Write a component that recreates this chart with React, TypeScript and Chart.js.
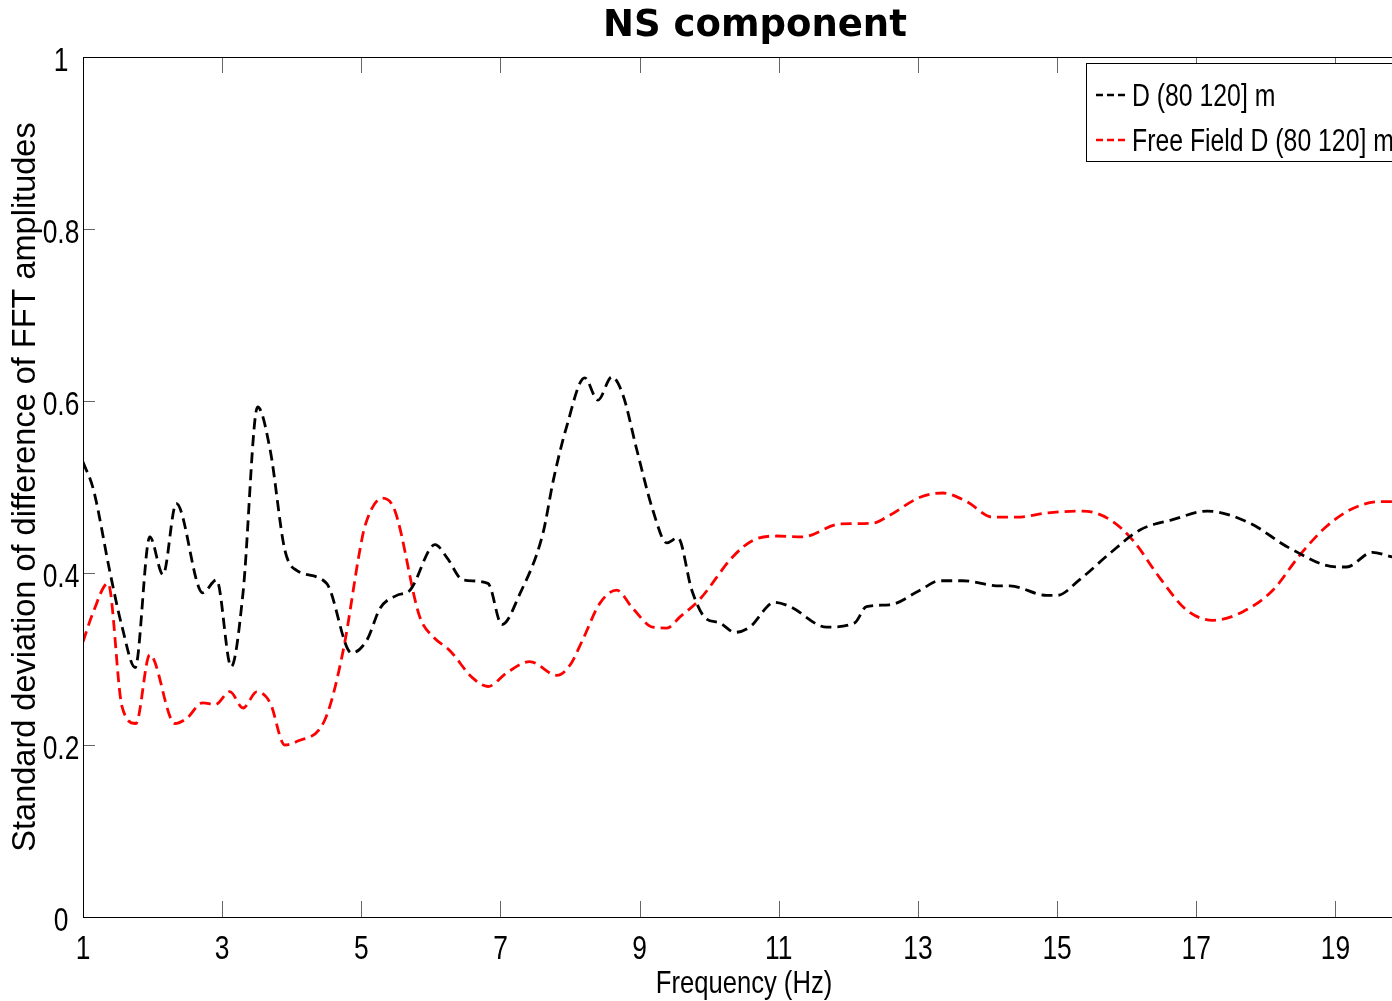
import React, { useEffect, useRef } from 'react';
import { Chart, registerables } from 'chart.js';

Chart.register(...registerables);

const titleText = 'NS component';
const xAxisTitle = 'Frequency (Hz)';
const yAxisTitle = 'Standard deviation of difference of FFT amplitudes';
const legendLabels = ['D (80 120] m', 'Free Field D (80 120] m'];

const xTickValues = [1, 3, 5, 7, 9, 11, 13, 15, 17, 19];
const yTickValues = [0, 0.2, 0.4, 0.6, 0.8, 1];
const yTickLabels = ['0', '0.2', '0.4', '0.6', '0.8', '1'];

const blackFreq = [1.0, 1.15, 1.39, 1.56, 1.75, 1.96, 2.15, 2.34, 2.72, 2.92, 3.13, 3.3, 3.51, 3.69, 3.9, 4.07, 4.5, 4.86, 5.08, 5.27, 5.51, 5.7, 6.06, 6.23, 6.46, 6.82, 7.02, 7.28, 7.61, 7.76, 7.95, 8.21, 8.4, 8.6, 8.76, 8.96, 9.19, 9.39, 9.55, 9.75, 9.94, 10.15, 10.37, 10.58, 10.94, 11.16, 11.69, 12.09, 12.26, 12.59, 13.03, 13.31, 13.64, 14.18, 14.32, 14.85, 15.0, 15.32, 15.76, 16.19, 16.66, 17.16, 17.77, 18.34, 19.02, 19.16, 19.53, 19.8, 20.0];
const blackVal = [0.529, 0.497, 0.4, 0.338, 0.29, 0.442, 0.398, 0.481, 0.377, 0.392, 0.291, 0.377, 0.593, 0.543, 0.427, 0.403, 0.388, 0.307, 0.322, 0.359, 0.374, 0.38, 0.433, 0.418, 0.392, 0.388, 0.34, 0.376, 0.446, 0.508, 0.57, 0.627, 0.601, 0.628, 0.607, 0.543, 0.473, 0.435, 0.441, 0.38, 0.348, 0.342, 0.331, 0.337, 0.366, 0.361, 0.337, 0.342, 0.361, 0.363, 0.38, 0.391, 0.391, 0.385, 0.385, 0.374, 0.374, 0.392, 0.423, 0.45, 0.462, 0.472, 0.458, 0.429, 0.407, 0.407, 0.424, 0.419, 0.415];

const redFreq = [1.0, 1.14, 1.36, 1.56, 1.76, 1.96, 2.32, 2.49, 2.72, 2.9, 3.11, 3.3, 3.5, 3.69, 3.9, 4.07, 4.48, 4.74, 4.98, 5.05, 5.3, 5.48, 5.84, 6.03, 6.27, 6.6, 6.82, 7.09, 7.42, 7.81, 8.0, 8.18, 8.43, 8.67, 8.9, 9.19, 9.39, 9.58, 9.86, 10.34, 10.63, 10.97, 11.34, 11.88, 12.35, 12.59, 13.03, 13.36, 13.7, 14.07, 14.42, 14.87, 15.37, 15.76, 16.09, 16.47, 16.86, 17.24, 17.67, 18.1, 18.49, 18.87, 19.25, 19.64, 20.0];
const redVal = [0.32, 0.353, 0.388, 0.245, 0.225, 0.305, 0.225, 0.231, 0.249, 0.247, 0.262, 0.243, 0.262, 0.249, 0.2, 0.204, 0.23, 0.31, 0.427, 0.454, 0.487, 0.473, 0.349, 0.326, 0.31, 0.278, 0.268, 0.284, 0.297, 0.281, 0.293, 0.322, 0.365, 0.38, 0.359, 0.337, 0.336, 0.349, 0.369, 0.419, 0.438, 0.443, 0.442, 0.457, 0.458, 0.467, 0.488, 0.493, 0.483, 0.465, 0.465, 0.47, 0.472, 0.462, 0.438, 0.395, 0.357, 0.345, 0.355, 0.38, 0.421, 0.454, 0.475, 0.483, 0.483];

const seriesColors = ['#000000', '#ff0000'];

const SANS = '"Liberation Sans", Arial, Helvetica, sans-serif';
const NARROW_SCALE = 0.8;

function narrowText(ctx: CanvasRenderingContext2D, text: string, x: number, y: number, align: CanvasTextAlign, size: number) {
  ctx.save();
  ctx.translate(x, y);
  ctx.scale(NARROW_SCALE, 1);
  ctx.font = size + 'px ' + SANS;
  ctx.fillStyle = '#000000';
  ctx.textAlign = align;
  ctx.textBaseline = 'alphabetic';
  ctx.fillText(text, 0, 0);
  ctx.restore();
}

const framePlugin = {
  id: 'frameAndExtras',
  afterDraw(chart: any) {
    const { ctx, chartArea } = chart;
    const xs = chart.scales.x;
    const ys = chart.scales.y;
    const { left, right, top, bottom } = chartArea;
    ctx.save();
    // tick marks
    ctx.strokeStyle = '#666666';
    ctx.lineWidth = 1;
    ctx.beginPath();
    xTickValues.forEach((v) => {
      const px = Math.round(xs.getPixelForValue(v)) + 0.5;
      ctx.moveTo(px, bottom);
      ctx.lineTo(px, bottom - 16);
      ctx.moveTo(px, top);
      ctx.lineTo(px, top + 16);
    });
    yTickValues.forEach((v) => {
      const py = Math.round(ys.getPixelForValue(v)) + 0.5;
      ctx.moveTo(left, py);
      ctx.lineTo(left + 12, py);
      ctx.moveTo(right, py);
      ctx.lineTo(right - 12, py);
    });
    ctx.stroke();
    // frame
    ctx.strokeStyle = '#000000';
    ctx.lineWidth = 1;
    ctx.strokeRect(Math.round(left) + 0.5, Math.round(top) + 0.5, Math.round(right - left), Math.round(bottom - top));
    // tick labels
    xTickValues.forEach((v) => {
      narrowText(ctx, String(v), xs.getPixelForValue(v), bottom + 42, 'center', 33);
    });
    yTickValues.forEach((v, i) => {
      narrowText(ctx, yTickLabels[i], left - 22, ys.getPixelForValue(v) + 14, 'center', 33);
    });
    // x axis title
    narrowText(ctx, xAxisTitle, (left + right) / 2, bottom + 76, 'center', 32);
    // title
    ctx.fillStyle = '#000000';
    ctx.font = 'bold 37px "DejaVu Sans", sans-serif';
    ctx.textAlign = 'center';
    ctx.textBaseline = 'middle';
    ctx.fillText(titleText, (left + right) / 2 + 11, 26);
    // legend
    const bx = right - 319;
    const by = top + 6;
    const bw = 316;
    const bh = 98;
    ctx.fillStyle = '#ffffff';
    ctx.fillRect(bx, by, bw, bh);
    ctx.strokeStyle = '#000000';
    ctx.lineWidth = 1;
    ctx.strokeRect(bx + 0.5, by + 0.5, bw, bh);
    legendLabels.forEach((label, i) => {
      const ly = by + 32 + i * 45;
      ctx.strokeStyle = seriesColors[i];
      ctx.lineWidth = 2.5;
      ctx.setLineDash([7, 4]);
      ctx.beginPath();
      ctx.moveTo(bx + 10, ly);
      ctx.lineTo(bx + 42, ly);
      ctx.stroke();
      ctx.setLineDash([]);
      narrowText(ctx, label, bx + 46, ly + 11, 'left', 31);
    });
    ctx.restore();
  },
};

export default function App() {
  const canvasRef = useRef<HTMLCanvasElement | null>(null);

  useEffect(() => {
    document.body.style.margin = '0';
    const canvas = canvasRef.current;
    if (!canvas) return;
    const chart = new Chart(canvas, {
      type: 'line',
      data: {
        datasets: [
          {
            label: legendLabels[0],
            data: blackFreq.map((f, i) => ({ x: f, y: blackVal[i] })),
            borderColor: seriesColors[0],
            borderWidth: 2.8,
            borderDash: [11, 6],
            pointRadius: 0,
            cubicInterpolationMode: 'monotone',
            fill: false,
          },
          {
            label: legendLabels[1],
            data: redFreq.map((f, i) => ({ x: f, y: redVal[i] })),
            borderColor: seriesColors[1],
            borderWidth: 2.8,
            borderDash: [11, 6],
            pointRadius: 0,
            cubicInterpolationMode: 'monotone',
            fill: false,
          },
        ],
      },
      options: {
        responsive: false,
        animation: false,
        devicePixelRatio: 1,
        layout: { padding: { top: 57, right: 25, left: 0, bottom: 0 } },
        plugins: {
          legend: { display: false },
          title: { display: false },
          tooltip: { enabled: false },
        },
        scales: {
          x: {
            type: 'linear',
            min: 1,
            max: 20,
            afterBuildTicks: (scale: any) => {
              scale.ticks = xTickValues.map((v) => ({ value: v }));
            },
            afterFit: (scale: any) => {
              scale.height = 84;
            },
            grid: { display: false, drawTicks: false },
            border: { display: false },
            ticks: { display: false },
            title: { display: false },
          },
          y: {
            type: 'linear',
            min: 0,
            max: 1,
            afterBuildTicks: (scale: any) => {
              scale.ticks = yTickValues.map((v) => ({ value: v }));
            },
            afterFit: (scale: any) => {
              scale.width = 83;
            },
            grid: { display: false, drawTicks: false },
            border: { display: false },
            ticks: { display: false },
            title: {
              display: true,
              text: yAxisTitle,
              color: '#000000',
              font: { family: SANS, size: 32.5 },
              padding: { top: 7, bottom: 0 },
            },
          },
        },
      },
      plugins: [framePlugin],
    });
    return () => chart.destroy();
  }, []);

  return (
    <div style={{ position: 'fixed', left: 0, top: 0, width: 1392, height: 1001, overflow: 'hidden', background: '#ffffff' }}>
      <canvas ref={canvasRef} width={1430} height={1001} style={{ display: 'block' }} />
    </div>
  );
}
